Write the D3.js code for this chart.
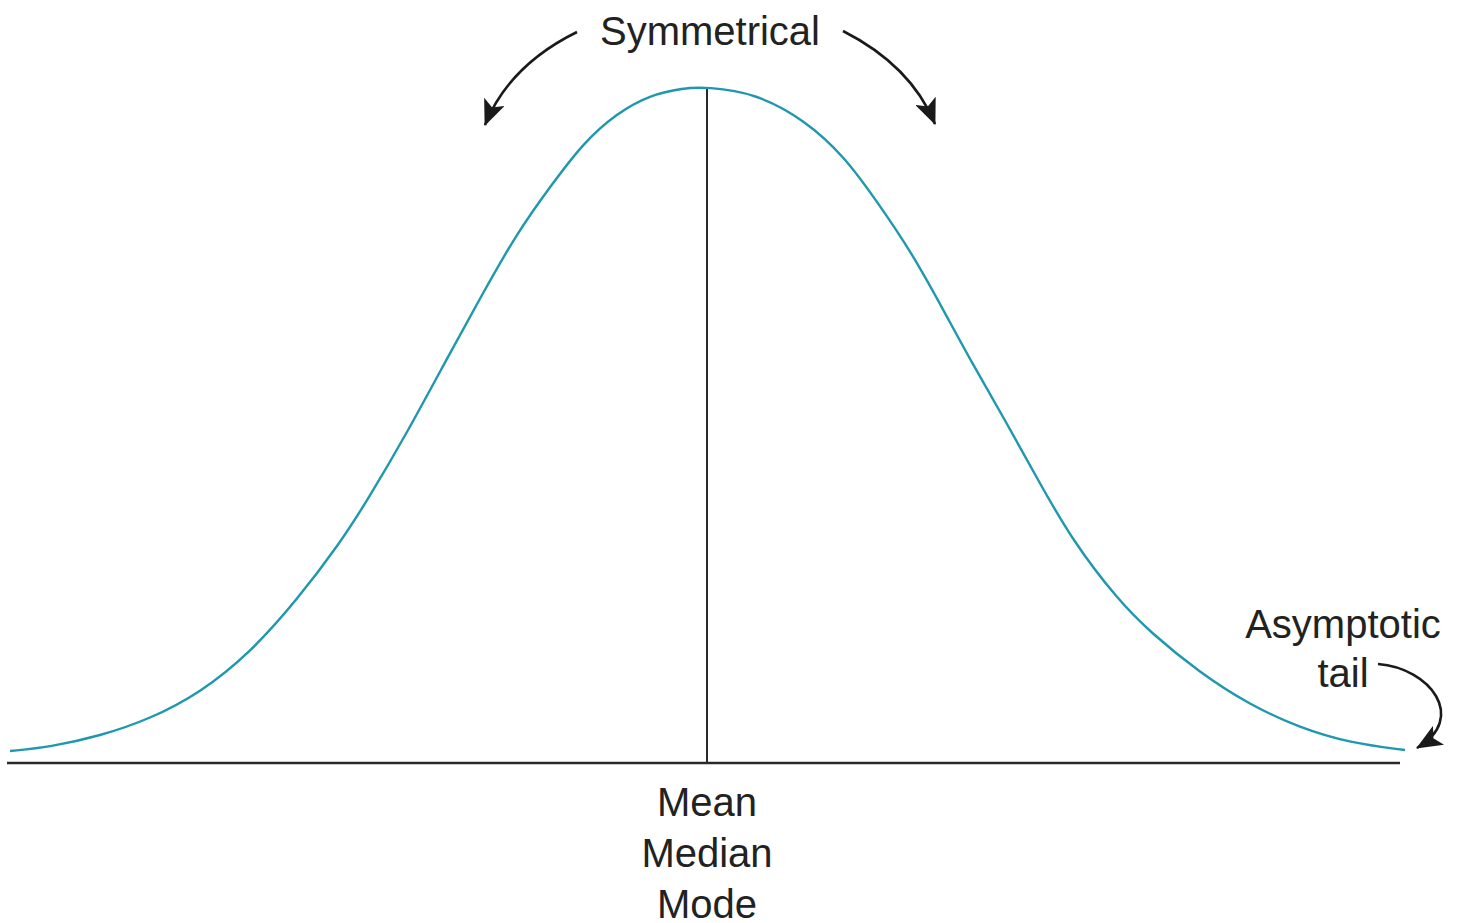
<!DOCTYPE html>
<html>
<head>
<meta charset="utf-8">
<script src="https://cdn.jsdelivr.net/npm/d3@7"></script>
<style>
  html, body { margin: 0; padding: 0; background: #fff; }
  svg { display: block; }
  text { font-family: "Liberation Sans", Arial, sans-serif; fill: #222; }
</style>
</head>
<body>
<svg id="chart" width="1463" height="923"></svg>
<script>
// ---- data (offset from the mean, height above the baseline) ----
const curveOffsets = [-698,-658,-608,-558,-508,-458,-411,-368,-341,-301,-258,-225,-191,-158,-125,-91,-58,-25,-1,
                      47,97,137,170,204,237,264,297,330,364,410,442,492,542,592,642,697];
const curveHeights = [12,16,27,44,70,110,163,220,262,330,410,470,530,576,620,650,668,675,676,
                      670,643,606,560,510,450,400,343,283,223,163,131,90,58,35,20,13];
const centerLabels = ["Mean", "Median", "Mode"];
const topLabel = "Symmetrical";
const tailLabels = ["Asymptotic", "tail"];

// annotation anchor points (in the same data units)
const leftArrow  = [[-131, 731], [-199, 697.5], [-223, 638]];
const rightArrow = [[135, 732], [203, 697.5], [227, 639]];
const tailArrow  = [[670, 99], [722, 95], [760, 45], [709, 15]];

const svg = d3.select("#chart");
const x = d3.scaleLinear().domain([-701, 692]).range([7, 1400]);
const y = d3.scaleLinear().domain([0, 676]).range([763, 87]);

// baseline
svg.append("line")
  .attr("x1", x(-701)).attr("x2", x(692))
  .attr("y1", y(0)).attr("y2", y(0))
  .attr("stroke", "#2a2a2a").attr("stroke-width", 2.6);

// centre line
svg.append("line")
  .attr("x1", x(-1)).attr("x2", x(-1))
  .attr("y1", y(676)).attr("y2", y(0))
  .attr("stroke", "#2a2a2a").attr("stroke-width", 2);

// curve
const pts = curveOffsets.map((o, i) => [o, curveHeights[i]]);
svg.append("path")
  .datum(pts)
  .attr("fill", "none")
  .attr("stroke", "#1f98ae")
  .attr("stroke-width", 2.4)
  .attr("d", d3.line().x(d => x(d[0])).y(d => y(d[1])).curve(d3.curveBasis));

// arrowhead marker
const defs = svg.append("defs");
defs.append("marker")
  .attr("id", "ah")
  .attr("markerUnits", "userSpaceOnUse")
  .attr("viewBox", "0 0 26 22")
  .attr("markerWidth", 26).attr("markerHeight", 22)
  .attr("refX", 25).attr("refY", 11)
  .attr("orient", "auto")
  .append("path")
  .attr("d", "M0,0 L26,11 L0,22 L6,11 Z")
  .attr("fill", "#1a1a1a");

function quad(p) {
  const path = d3.path();
  path.moveTo(x(p[0][0]), y(p[0][1]));
  path.quadraticCurveTo(x(p[1][0]), y(p[1][1]), x(p[2][0]), y(p[2][1]));
  return path.toString();
}
function cubic(p) {
  const path = d3.path();
  path.moveTo(x(p[0][0]), y(p[0][1]));
  path.bezierCurveTo(x(p[1][0]), y(p[1][1]), x(p[2][0]), y(p[2][1]), x(p[3][0]), y(p[3][1]));
  return path.toString();
}
[quad(leftArrow), quad(rightArrow), cubic(tailArrow)].forEach(d => {
  svg.append("path")
    .attr("d", d)
    .attr("fill", "none")
    .attr("stroke", "#1a1a1a")
    .attr("stroke-width", 2.6)
    .attr("marker-end", "url(#ah)");
});

// texts
svg.append("text")
  .attr("x", x(2)).attr("y", y(676 - (45 - 87)))
  .attr("text-anchor", "middle")
  .attr("font-size", 40)
  .text(topLabel);

svg.selectAll("text.center")
  .data(centerLabels)
  .enter().append("text")
  .attr("class", "center")
  .attr("x", x(-1))
  .attr("y", (d, i) => y(0) + 53 + i * 51)
  .attr("text-anchor", "middle")
  .attr("font-size", 40)
  .text(d => d);

svg.selectAll("text.tail")
  .data(tailLabels)
  .enter().append("text")
  .attr("class", "tail")
  .attr("x", x(635))
  .attr("y", (d, i) => y(125) + i * 49)
  .attr("text-anchor", "middle")
  .attr("font-size", 40)
  .text(d => d);
</script>
</body>
</html>
